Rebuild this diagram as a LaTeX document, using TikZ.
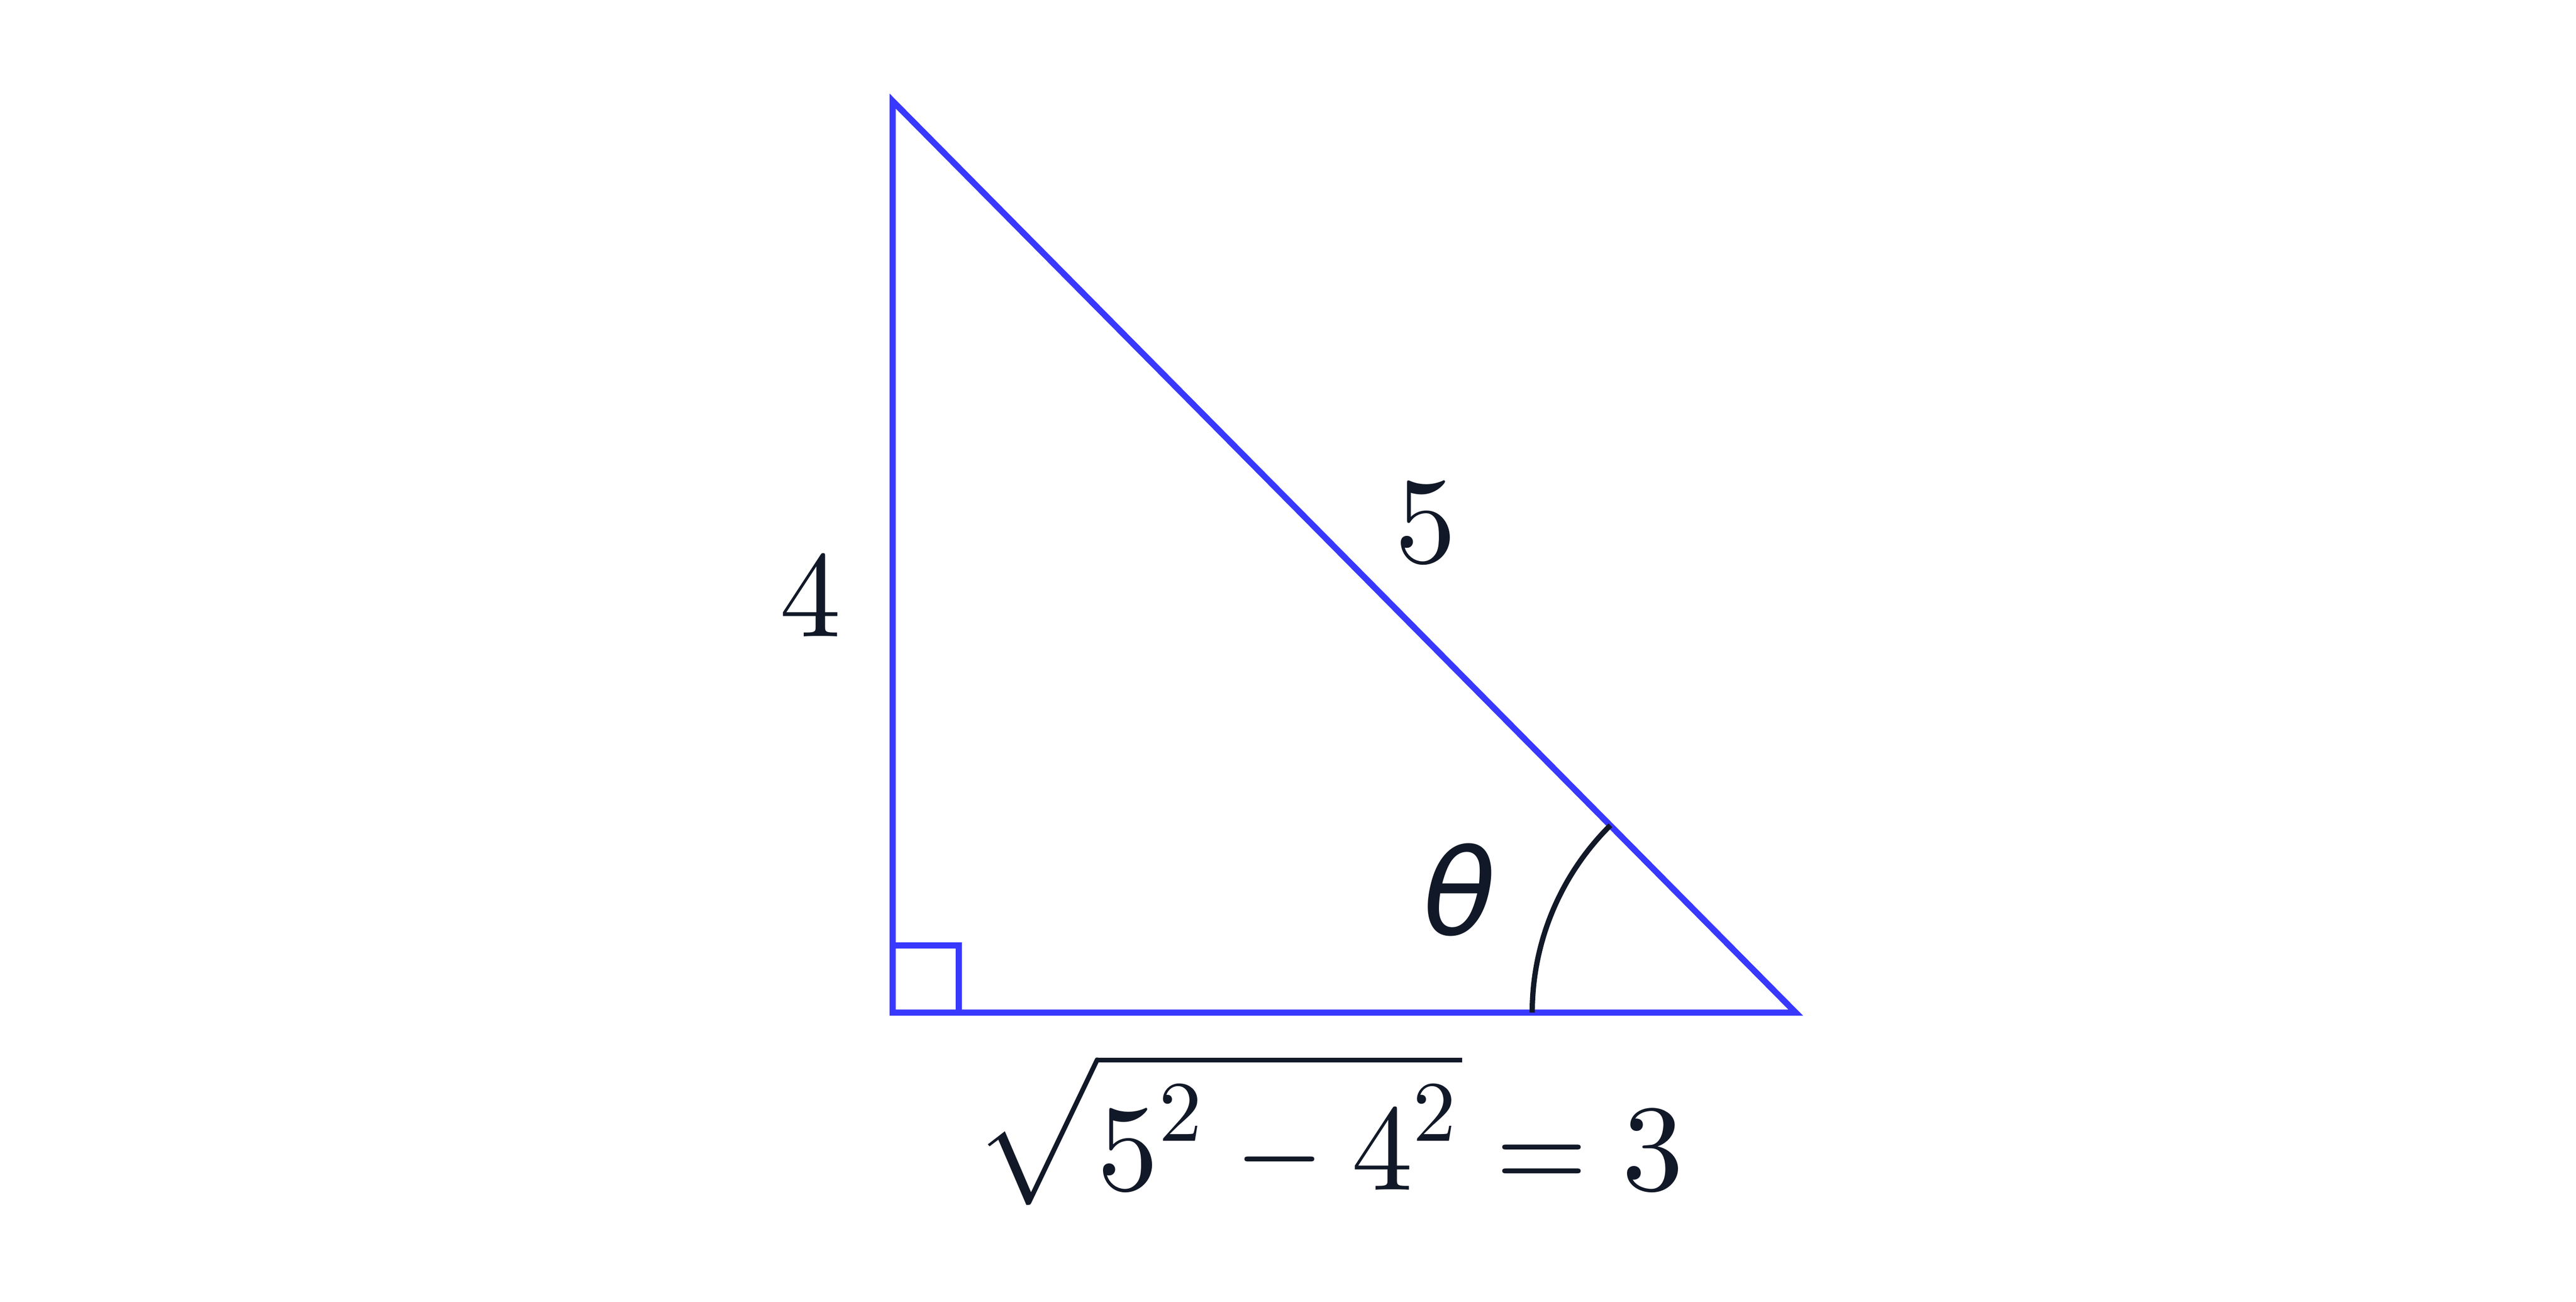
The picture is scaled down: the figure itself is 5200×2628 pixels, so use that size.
\documentclass[tikz,border=0pt]{standalone}
\usepackage{fontspec}
\usepackage{graphicx}
\newfontfamily\thetafont{DejaVu Sans}[ItalicFont={DejaVu Sans Oblique}]
\definecolor{sideblue}{RGB}{56,56,255}
\definecolor{ink}{HTML}{111827}
\newcommand{\supsq}{^{\raisebox{1.1pt}{\scalebox{0.7}{$2$}}}}
\newcommand{\nminus}{\mathbin{\scalebox{0.93}[1]{$-$}}}
\newcommand{\nequals}{\mathrel{\scalebox{0.96}[1]{$=$}}}
\tikzset{
  side/.style={draw=sideblue, line width=0.5pt, line join=miter},
  anglearc/.style={draw=ink, line width=0.43pt},
  lbl/.style={inner sep=0pt, text=ink}
}
\begin{document}
\begin{tikzpicture}[x=0.04032pt,y=-0.04032pt]
\useasboundingbox (0,0) rectangle (5200,2628);
\coordinate (A) at (1802,204);
\coordinate (B) at (1802,2044);
\coordinate (C) at (3625,2044);
\coordinate (R1) at (1802,1908);
\coordinate (R2) at (1935,1908);
\coordinate (R3) at (1935,2044);
\draw[side] (A) -- (B) -- (C) -- cycle;
\draw[side] (R1) -- (R2) -- (R3);
\draw[anglearc] (C) ++(-532,0) arc[start angle=180, end angle=225.3, radius=532];
\node[lbl, anchor=base] (l4) at (1636,1285) {$4$};
\node[lbl, anchor=base] (l5) at (2878,1135) {$5$};
\node[lbl, anchor=center] (lt) at (2947,1796) {\fontsize{9.7}{10}\thetafont\itshape θ};
\node[lbl, anchor=base west] (eq) at (1962,2402) {$\displaystyle\sqrt{5\supsq\nminus4\supsq}\nequals3$};
\end{tikzpicture}
\end{document}
